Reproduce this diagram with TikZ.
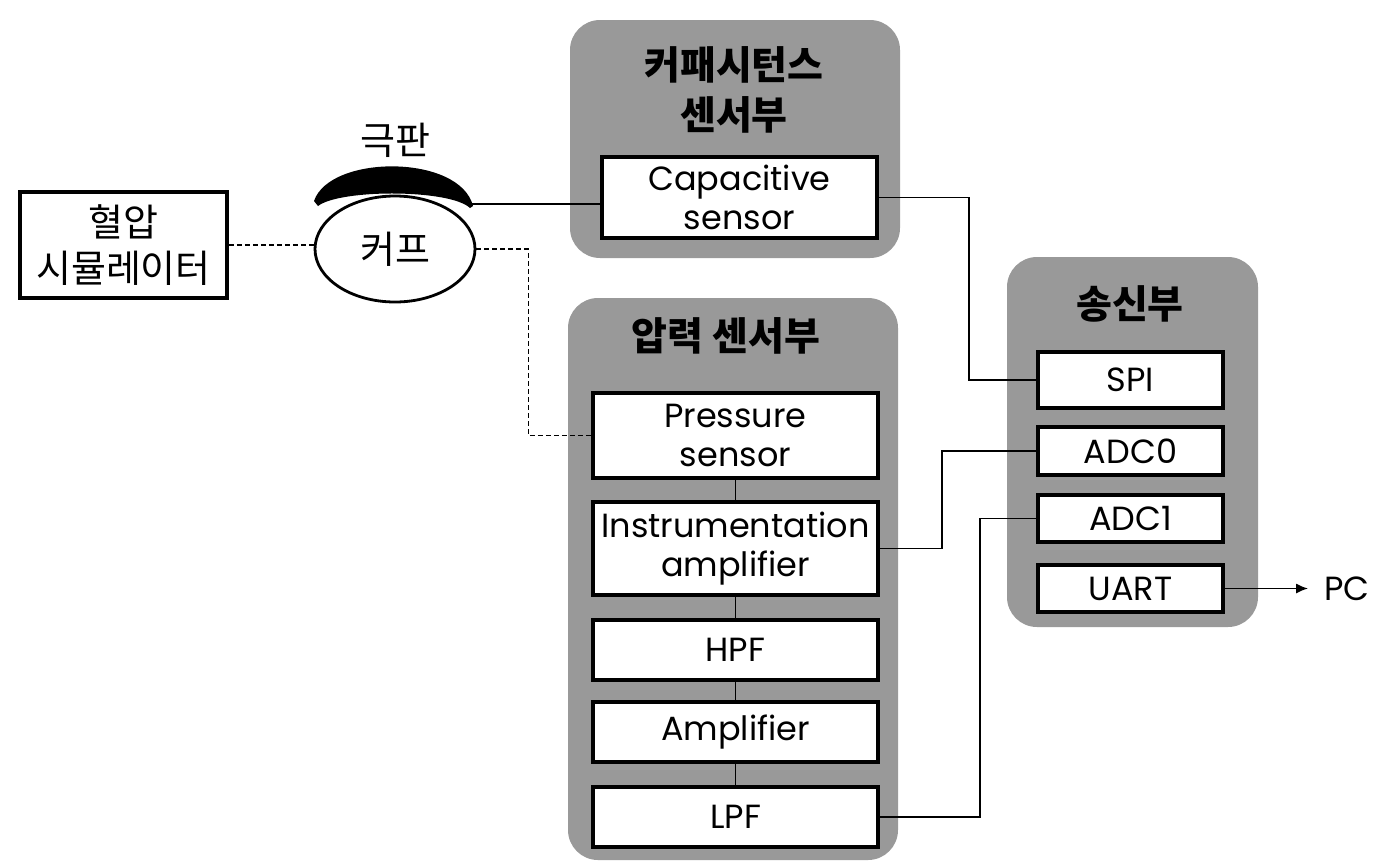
\documentclass[tikz,border=0pt]{standalone}
\usepackage{fontspec}
\setmainfont{Poppins}
\newfontfamily\kr{Noto Sans CJK KR}
\usetikzlibrary{arrows.meta,shapes.geometric}
\begin{document}
\begin{tikzpicture}[x=1pt,y=-1pt,
  panel/.style={fill=black!40,draw=none,rounded corners=30pt},
  blk/.style={draw,line width=3.5pt,fill=white,align=center,inner sep=0pt,
    font=\fontsize{33.5}{39}\selectfont},
  ttl/.style={font=\kr\bfseries\fontsize{39}{50}\selectfont,align=center,inner sep=0pt},
  krtxt/.style={font=\kr\fontsize{38}{46}\selectfont,align=center,inner sep=0pt},
  wire/.style={line width=1.8pt},
  air/.style={line width=1.8pt,dash pattern=on 5pt off 3pt}]
\useasboundingbox (0,0) rectangle (1376,863);
% panels
\fill[panel] (570,20) rectangle (900,258);
\fill[panel] (568,298) rectangle (898,860);
\fill[panel] (1007,257) rectangle (1258,627);
\node[ttl] (tcap) at (734,90) {커패시턴스\\센서부};
\node[ttl] (tpre) at (726,336) {압력 센서부};
\node[ttl] (ttx) at (1130,304) {송신부};
% left side
\node[blk,krtxt,line width=3.5pt,minimum width=207pt,minimum height=106pt] (sim) at (123.5,245) {혈압\\시뮬레이터};
\node[draw,ellipse,line width=2.8pt,fill=white,minimum width=160pt,minimum height=106pt,krtxt] (cuff) at (395,249) {커프};
\fill (314,201) .. controls (330,154) and (460,154) .. (473,206)
  -- (470,208) .. controls (450,189) and (340,189) .. (318,206) -- cycle;
\coordinate (el) at (471,204);
\node[krtxt] (elab) at (395,140) {극판};
% capacitive
\node[blk,minimum width=275pt,minimum height=81pt] (cap) at (739.5,197.5) {Capacitive\\sensor};
% pressure chain
\node[blk,minimum width=285pt,minimum height=85pt] (pre) at (735.5,435.5) {Pressure\\sensor};
\node[blk,minimum width=285pt,minimum height=93pt] (ina) at (735.5,548.5) {Instrumentation\\amplifier};
\node[blk,minimum width=285pt,minimum height=60pt] (hpf) at (735.5,650) {HPF};
\node[blk,minimum width=285pt,minimum height=60pt] (amp) at (735.5,732) {Amplifier};
\node[blk,minimum width=285pt,minimum height=60pt] (lpf) at (735.5,817) {LPF};
% transmitter
\node[blk,minimum width=185pt,minimum height=56pt] (spi) at (1130.5,380) {SPI};
\node[blk,minimum width=185pt,minimum height=48pt] (adc0) at (1130.5,451) {ADC0};
\node[blk,minimum width=185pt,minimum height=47pt] (adc1) at (1130.5,518.5) {ADC1};
\node[blk,minimum width=185pt,minimum height=47pt] (uart) at (1130.5,588.5) {UART};
\node[font=\fontsize{33.5}{39}\selectfont,inner xsep=16pt,inner ysep=0pt] (pc) at (1347,588.5) {PC};
% connectors
\draw[air] (sim.east) -- (sim.east -| cuff.west);
\draw[air] (cuff.east) -- ++(52,0) |- (pre.west);
\draw[wire] (el) -- (el -| cap.west);
\draw[wire] (cap.east) -- ++(90,0) |- (spi.west);
\draw[wire] (pre) -- (ina);
\draw[wire] (ina) -- (hpf);
\draw[wire] (hpf) -- (amp);
\draw[wire] (amp) -- (lpf);
\draw[wire] (ina.east) -- ++(62,0) |- (adc0.west);
\draw[wire] (lpf.east) -- ++(100,0) |- (adc1.west);
\draw[wire,-{Latex[length=12pt,width=10pt]}] (uart.east) -- (pc.west);
\end{tikzpicture}
\end{document}
